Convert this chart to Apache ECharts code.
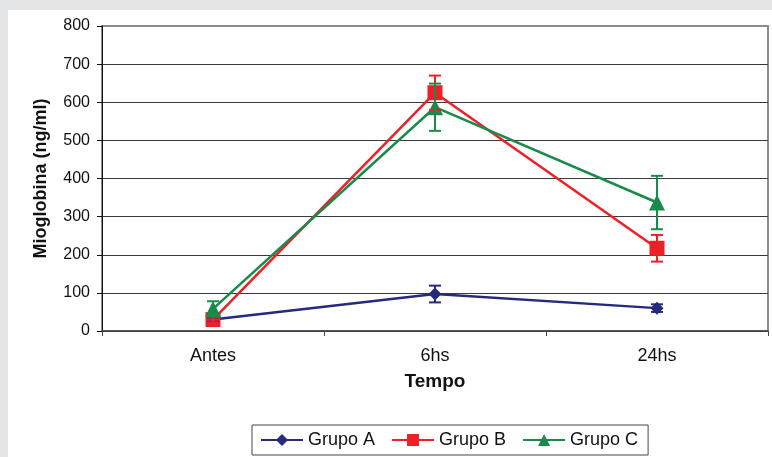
<!DOCTYPE html>
<html>
<head>
<meta charset="utf-8">
<script src="https://cdn.jsdelivr.net/npm/echarts@6.0.0/dist/echarts.min.js"></script>
<style>
  html, body { margin: 0; padding: 0; }
  body { width: 772px; height: 457px; background: #e4e5e7; position: relative; overflow: hidden; }
  #chart { position: absolute; left: 8px; top: 10px; width: 764px; height: 447px; background: #ffffff; }
</style>
</head>
<body>
<div id="chart"></div>
<script>
// Data
const categories = ['Antes', '6hs', '24hs'];
const seriesNames = ['Grupo A', 'Grupo B', 'Grupo C'];
const grupoA = [30, 97, 60];
const grupoB = [30, 625, 217];
const grupoC = [58, 587, 337];
const errA = [6, 22, 10];
const errB = [8, 45, 35];
const errC = [20, 62, 70];
const yTicks = [0, 100, 200, 300, 400, 500, 600, 700, 800];

const colors = ['#262a7e', '#ee2027', '#1a8a4c'];
const fontFamily = 'Liberation Sans, Arial, sans-serif';

const chart = echarts.init(document.getElementById('chart'));

// error bars drawn through the axes' own coordinates
const errorSeries = (name, values, errs, color) => ({
  name: name + ' err',
  type: 'custom',
  z: 3,
  data: values.map((v, i) => [i, v, errs[i]]),
  renderItem: (params, api) => {
    const x = api.value(0), v = api.value(1), e = api.value(2);
    const top = api.coord([x, v + e]);
    const bot = api.coord([x, v - e]);
    const half = 6;
    const style = { stroke: color, lineWidth: 2 };
    return {
      type: 'group',
      children: [
        { type: 'line', shape: { x1: top[0], y1: top[1], x2: bot[0], y2: bot[1] }, style },
        { type: 'line', shape: { x1: top[0] - half, y1: top[1], x2: top[0] + half, y2: top[1] }, style },
        { type: 'line', shape: { x1: bot[0] - half, y1: bot[1], x2: bot[0] + half, y2: bot[1] }, style }
      ]
    };
  }
});

const lineSeries = (name, values, color, symbol, size) => ({
  name,
  type: 'line',
  data: values,
  symbol,
  symbolSize: size,
  lineStyle: { color, width: 2.5 },
  itemStyle: { color },
  z: 2
});

const option = {
  animation: false,
  color: colors,
  textStyle: { fontFamily },
  grid: {
    left: 94,
    top: 16,
    right: 4,
    bottom: 126,
    show: true,
    borderColor: '#8c8c8c',
    borderWidth: 2
  },
  legend: {
    data: seriesNames,
    left: 244,
    top: 415,
    itemWidth: 42,
    itemHeight: 15,
    itemGap: 16,
    padding: [6, 10, 6, 8],
    borderColor: '#444',
    borderWidth: 1,
    textStyle: { fontSize: 18, color: '#111', fontFamily }
  },
  xAxis: {
    type: 'category',
    data: categories,
    boundaryGap: true,
    name: 'Tempo',
    nameLocation: 'middle',
    nameGap: 41,
    nameTextStyle: { fontSize: 19, fontWeight: 'bold', color: '#111', fontFamily, verticalAlign: 'top' },
    axisLine: { lineStyle: { color: '#444', width: 1.5 } },
    axisTick: { show: true, length: 5, lineStyle: { color: '#444' } },
    axisLabel: { fontSize: 18, color: '#111', margin: 16, fontFamily }
  },
  yAxis: {
    type: 'value',
    min: 0,
    max: 800,
    interval: 100,
    name: 'Mioglobina (ng/ml)',
    nameLocation: 'middle',
    nameGap: 52,
    nameTextStyle: { fontSize: 18, fontWeight: 'bold', color: '#111', fontFamily },
    axisLine: { show: true, lineStyle: { color: '#111', width: 1 } },
    axisTick: { show: true, length: 5, lineStyle: { color: '#111' } },
    axisLabel: {
      fontSize: 16, color: '#111', margin: 12, fontFamily,
      formatter: v => (yTicks.includes(v) ? String(v) : '')
    },
    splitLine: { show: true, showMaxLine: false, lineStyle: { color: '#3a3a3a', width: 1 } }
  },
  series: [
    lineSeries('Grupo A', grupoA, colors[0], 'diamond', 13),
    lineSeries('Grupo B', grupoB, colors[1], 'rect', 15),
    lineSeries('Grupo C', grupoC, colors[2], 'triangle', 16),
    errorSeries('Grupo A', grupoA, errA, colors[0]),
    errorSeries('Grupo B', grupoB, errB, colors[1]),
    errorSeries('Grupo C', grupoC, errC, colors[2])
  ]
};

chart.setOption(option);
</script>
</body>
</html>
